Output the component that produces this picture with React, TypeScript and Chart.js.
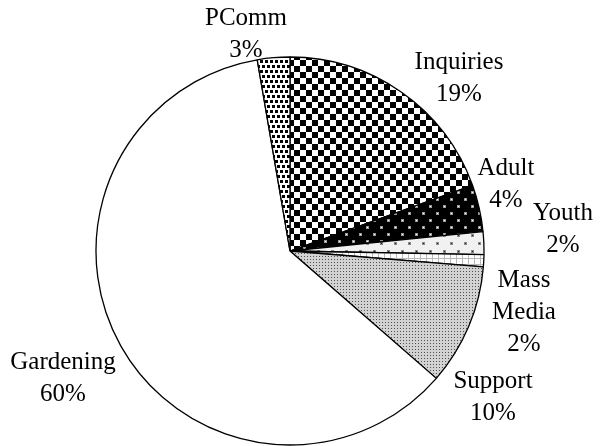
import React, { useEffect, useRef } from "react";
import { Chart, registerables } from "chart.js";

Chart.register(...registerables);

// ---- data ----
const categories = ["Inquiries", "Adult", "Youth", "Mass Media", "Support", "Gardening", "PComm"];
const shares = [19.5, 3.9, 1.9, 1.0, 10.1, 60.9, 2.7];
const percentLabels = ["19%", "4%", "2%", "2%", "10%", "60%", "3%"];

type PatternKind = "checker" | "blackDots" | "greyDots" | "grid" | "fineDots" | "plain" | "squares";
const patternKinds: PatternKind[] = ["checker", "blackDots", "greyDots", "grid", "fineDots", "plain", "squares"];

function makePattern(ctx: CanvasRenderingContext2D, kind: PatternKind): CanvasPattern | string {
  const c = document.createElement("canvas");
  const g = c.getContext("2d")!;
  if (kind === "plain") return "#ffffff";
  if (kind === "checker") {
    c.width = 12; c.height = 12;
    g.fillStyle = "#fff"; g.fillRect(0, 0, 12, 12);
    g.fillStyle = "#000";
    g.fillRect(0, 0, 6, 6); g.fillRect(6, 6, 6, 6);
  } else if (kind === "blackDots") {
    c.width = 14; c.height = 14;
    g.fillStyle = "#000"; g.fillRect(0, 0, 14, 14);
    g.fillStyle = "#9a9a9a";
    g.fillRect(2, 2, 3, 3); g.fillRect(9, 9, 3, 3);
    g.fillStyle = "#ffffff";
    g.fillRect(3, 3, 1, 1); g.fillRect(10, 10, 1, 1);
  } else if (kind === "greyDots") {
    c.width = 14; c.height = 16;
    g.fillStyle = "#f1f1f1"; g.fillRect(0, 0, 14, 16);
    g.fillStyle = "#8a8a8a";
    g.fillRect(2, 2, 3, 3); g.fillRect(9, 10, 3, 3);
    g.fillStyle = "#222";
    g.fillRect(3, 3, 1, 1); g.fillRect(10, 11, 1, 1);
  } else if (kind === "grid") {
    c.width = 6; c.height = 6;
    g.fillStyle = "#ffffff"; g.fillRect(0, 0, 6, 6);
    g.fillStyle = "#b8b8b8";
    g.fillRect(0, 0, 6, 1); g.fillRect(0, 0, 1, 6);
  } else if (kind === "fineDots") {
    c.width = 3; c.height = 3;
    g.fillStyle = "#d2d2d2"; g.fillRect(0, 0, 3, 3);
    g.fillStyle = "#505050";
    g.fillRect(1, 1, 1, 1);
  } else if (kind === "squares") {
    c.width = 10; c.height = 10;
    g.fillStyle = "#fff"; g.fillRect(0, 0, 10, 10);
    g.fillStyle = "#000";
    g.fillRect(0, 0, 3, 3); g.fillRect(5, 0, 3, 3);
    g.fillRect(2, 5, 3, 3); g.fillRect(7, 5, 3, 3);
  }
  return ctx.createPattern(c, "repeat")!;
}

// label anchors: [centerX, first baseline]
const labelAnchors: [number, number][] = [
  [459, 69],
  [506, 175],
  [563, 220],
  [524, 287],
  [493, 388],
  [63, 369],
  [246, 25],
];

const labelPlugin = {
  id: "outsideLabels",
  afterDraw(chart: any) {
    const ctx = chart.ctx as CanvasRenderingContext2D;
    ctx.save();
    ctx.fillStyle = "#000";
    ctx.font = "25px 'Liberation Serif', 'Times New Roman', serif";
    ctx.textAlign = "center";
    ctx.textBaseline = "alphabetic";
    categories.forEach((cat, i) => {
      const lines = [...cat.split(" "), percentLabels[i]];
      const [x, y] = labelAnchors[i];
      lines.forEach((ln, j) => ctx.fillText(ln, x, y + j * 32));
    });
    ctx.restore();
  },
};

export default function App() {
  const ref = useRef<HTMLCanvasElement | null>(null);
  useEffect(() => {
    document.body.style.margin = "0";
    const canvas = ref.current!;
    const ctx = canvas.getContext("2d")!;
    const fills = patternKinds.map((k) => makePattern(ctx, k));
    const chart = new Chart(canvas, {
      type: "pie",
      data: {
        labels: categories,
        datasets: [
          {
            data: shares,
            backgroundColor: fills as any,
            borderColor: "#000",
            borderWidth: 1.3,
          },
        ],
      },
      options: {
        responsive: false,
        animation: false,
        radius: 194,
        rotation: 0,
        layout: { padding: { left: 96, right: 116, top: 57, bottom: 1 } },
        plugins: {
          legend: { display: false },
          tooltip: { enabled: false },
        },
      } as any,
      plugins: [labelPlugin],
    });
    return () => chart.destroy();
  }, []);
  return (
    <div style={{ position: "absolute", left: 0, top: 0, width: 600, height: 446, background: "#fff" }}>
      <canvas ref={ref} width={600} height={446} />
    </div>
  );
}
